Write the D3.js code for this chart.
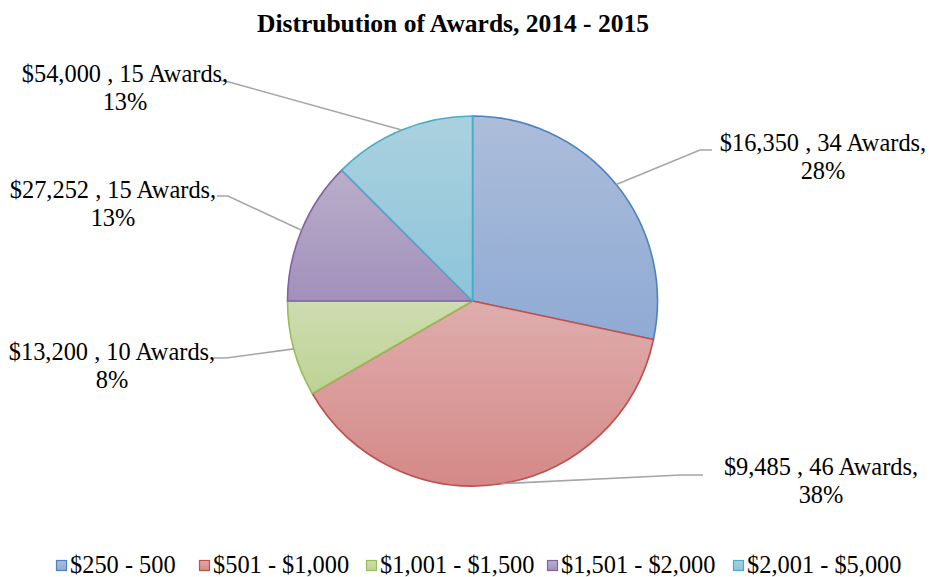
<!DOCTYPE html>
<html>
<head>
<meta charset="utf-8">
<script src="https://cdn.jsdelivr.net/npm/d3@7"></script>
<style>
  html, body { margin: 0; padding: 0; background: #ffffff; }
  svg { display: block; }
</style>
</head>
<body>
<svg id="chart" width="930" height="577"></svg>
<script>
// ---- data ----
const categories = ["$250 - 500", "$501 - $1,000", "$1,001 - $1,500", "$1,501 - $2,000", "$2,001 - $5,000"];
const awardCounts = [34, 46, 10, 15, 15];
const dollarTotals = ["$16,350", "$9,485", "$13,200", "$27,252", "$54,000"];
const percentLabels = ["28%", "38%", "8%", "13%", "13%"];
const title = "Distrubution of Awards, 2014 - 2015";

// ---- styles ----
const FONT = "'Liberation Serif', 'Times New Roman', Times, 'DejaVu Serif', serif";
const strokeColors = ["#4F81BD", "#C0504D", "#9BBB59", "#8064A2", "#4BACC6"];
const gradTop =      ["#ACBDDA", "#DFADAD", "#CEDCB1", "#B9AECA", "#ABD1DF"];
const gradBottom =   ["#8FAAD4", "#D48987", "#BDD395", "#A290BB", "#8CC5DA"];

const svg = d3.select("#chart");
const cx = 472.5, cy = 301, R = 185;

// gradients
const defs = svg.append("defs");
categories.forEach((c, i) => {
  const g = defs.append("linearGradient")
    .attr("id", "g" + i).attr("x1", 0).attr("y1", 0).attr("x2", 0).attr("y2", 1);
  g.append("stop").attr("offset", "0%").attr("stop-color", gradTop[i]);
  g.append("stop").attr("offset", "100%").attr("stop-color", gradBottom[i]);
});

// title
svg.append("text")
  .attr("x", 453).attr("y", 32)
  .attr("text-anchor", "middle")
  .attr("font-family", FONT)
  .attr("font-size", 25.5).attr("font-weight", "bold")
  .text(title);

// pie
const pie = d3.pie().sort(null).value(d => d)(awardCounts);
const arc = d3.arc().innerRadius(0).outerRadius(R);
const gPie = svg.append("g").attr("transform", `translate(${cx},${cy})`);
gPie.selectAll("path").data(pie).join("path")
  .attr("d", arc)
  .attr("fill", (d, i) => `url(#g${i})`)
  .attr("stroke", (d, i) => strokeColors[i])
  .attr("stroke-width", 1.6)
  .attr("stroke-linejoin", "round");

// label layout
const labelLayout = [
  { x: 823, y: 151, elbow: [700, 150], end: [712, 150] },
  { x: 821, y: 475, elbow: [681, 475], end: [703, 475] },
  { x: 112, y: 360, elbow: [226, 358], end: [214, 358] },
  { x: 113, y: 198, elbow: [228, 196], end: [217, 196] },
  { x: 125, y: 82,  elbow: [229, 82],  end: [219, 80] }
];

pie.forEach((d, i) => {
  const c = arc.centroid(d);
  const a = Math.atan2(c[1], c[0]);
  const px = cx + R * Math.cos(a), py = cy + R * Math.sin(a);
  const L = labelLayout[i];
  svg.append("polyline")
    .attr("points", [[px, py], L.elbow, L.end].map(p => p.join(",")).join(" "))
    .attr("fill", "none").attr("stroke", "#A6A6A6").attr("stroke-width", 1.6);
  const t = svg.append("text").attr("text-anchor", "middle")
    .attr("font-family", FONT).attr("font-size", 24.4).attr("fill", "#000");
  t.append("tspan").attr("x", L.x).attr("y", L.y)
    .text(`${dollarTotals[i]} , ${awardCounts[i]} Awards,`);
  t.append("tspan").attr("x", L.x).attr("y", L.y + 27.5)
    .text(percentLabels[i]);
});

// legend
const legendStarts = [56, 199, 366, 547, 733];
const lg = svg.append("g");
categories.forEach((c, i) => {
  const x0 = legendStarts[i];
  lg.append("rect").attr("x", x0 + 0.5).attr("y", 560.5).attr("width", 10).attr("height", 10)
    .attr("fill", `url(#g${i})`).attr("stroke", strokeColors[i]).attr("stroke-width", 1.2);
  lg.append("text").attr("x", x0 + 14).attr("y", 573)
    .attr("font-family", FONT).attr("font-size", 24.4).attr("fill", "#000").text(c);
});
</script>
</body>
</html>
